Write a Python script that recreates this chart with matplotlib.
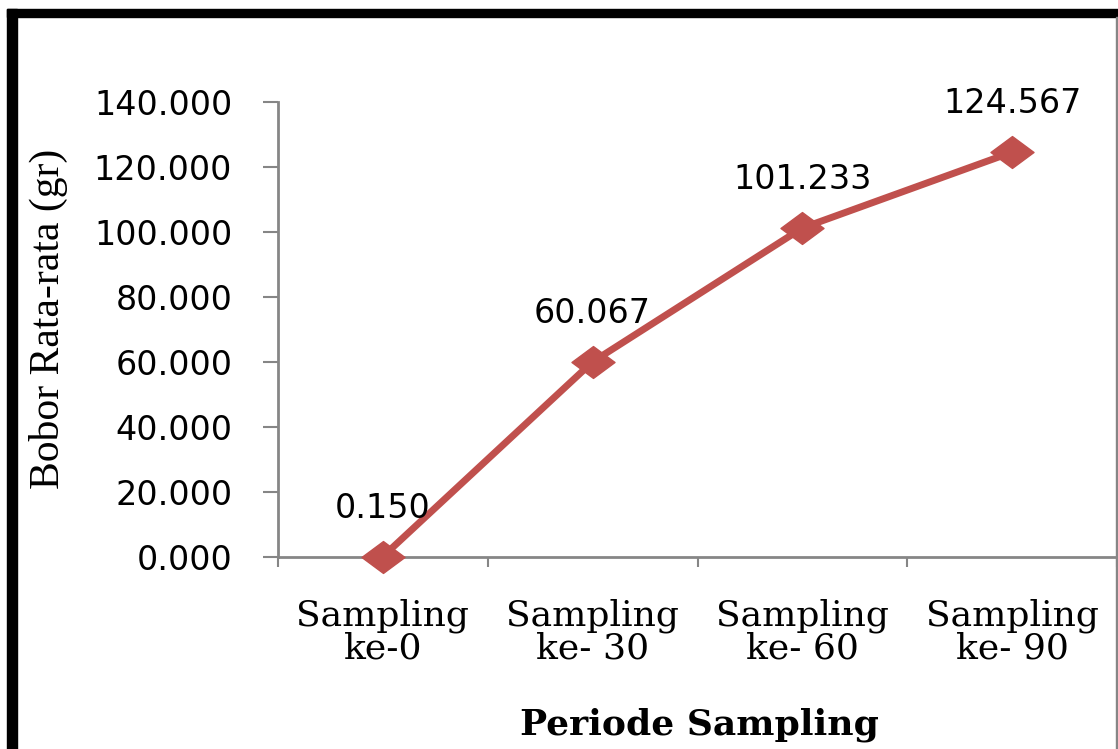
import numpy as np
import matplotlib
matplotlib.use('Agg')
import matplotlib.pyplot as plt
from matplotlib.path import Path
from matplotlib.patches import Rectangle

# data
kategori = ['Sampling\nke-0', 'Sampling\nke- 30', 'Sampling\nke- 60', 'Sampling\nke- 90']
bobot = [0.150, 60.067, 101.233, 124.567]
label_bobot = ['0.150', '60.067', '101.233', '124.567']
yticks = [0, 20, 40, 60, 80, 100, 120, 140]

W, H = 1118, 749
fig = plt.figure(figsize=(W / 100, H / 100), dpi=100)

# posisi plot area (pixel -> fraksi)
ax = fig.add_axes([278 / W, 1 - 557 / H, (1117 - 278) / W, (557 - 102) / H])

merah = '#C0504D'
abu = '#868686'

# marker belah ketupat yang melebar
diamond = Path([(-1.35, 0), (0, 1), (1.35, 0), (0, -1), (-1.35, 0)],
               [Path.MOVETO, Path.LINETO, Path.LINETO, Path.LINETO, Path.CLOSEPOLY])

x = np.arange(len(bobot))
ax.plot(x, bobot, color=merah, lw=5, marker=diamond, markersize=31,
        markerfacecolor=merah, markeredgecolor=merah, zorder=3, clip_on=False)

for xi, yi, lab in zip(x, bobot, label_bobot):
    ax.annotate(lab, (xi, yi), xytext=(0, 28), textcoords='offset points',
                ha='center', va='baseline', fontsize=24, family='DejaVu Sans')

ax.set_xlim(-0.5, 3.5)
ax.set_ylim(0, 140)

ax.set_yticks(yticks)
ax.set_yticklabels(['%.3f' % v for v in yticks], fontsize=24, family='DejaVu Sans')
ax.tick_params(axis='y', length=11, width=1.5, color=abu, pad=22)

# tick garis di batas kategori, label di tengah kategori
ax.set_xticks([-0.5, 0.5, 1.5, 2.5, 3.5])
ax.set_xticklabels([])
ax.tick_params(axis='x', which='major', length=7, width=1.5, color=abu)
ax.set_xticks(x, minor=True)
ax.set_xticklabels(kategori, minor=True, fontsize=26, family='DejaVu Serif',
                   linespacing=0.95)
ax.tick_params(axis='x', which='minor', length=0, pad=30)

for s in ['top', 'right']:
    ax.spines[s].set_visible(False)
for s in ['left', 'bottom']:
    ax.spines[s].set_color(abu)
    ax.spines[s].set_linewidth(2)

fig.text(699 / W, 1 - 735 / H, 'Periode Sampling', ha='center', va='baseline',
         fontsize=26, fontweight='bold', family='DejaVu Serif')
fig.text(48 / W, 1 - 319 / H, 'Bobor Rata-rata (gr)', rotation=90,
         ha='center', va='center', fontsize=30, family='Liberation Serif')

# bingkai chart
fig.patches.append(Rectangle((7 / W, 0), 10 / W, 1 - 9 / H, transform=fig.transFigure,
                             color='black', zorder=10))
fig.patches.append(Rectangle((7 / W, 1 - 17 / H), 1, 8 / H, transform=fig.transFigure,
                             color='black', zorder=10))
fig.patches.append(Rectangle((1116 / W, 0), 2 / W, 1 - 17 / H, transform=fig.transFigure,
                             color=abu, zorder=10))

fig.savefig('out.png', dpi=100)
